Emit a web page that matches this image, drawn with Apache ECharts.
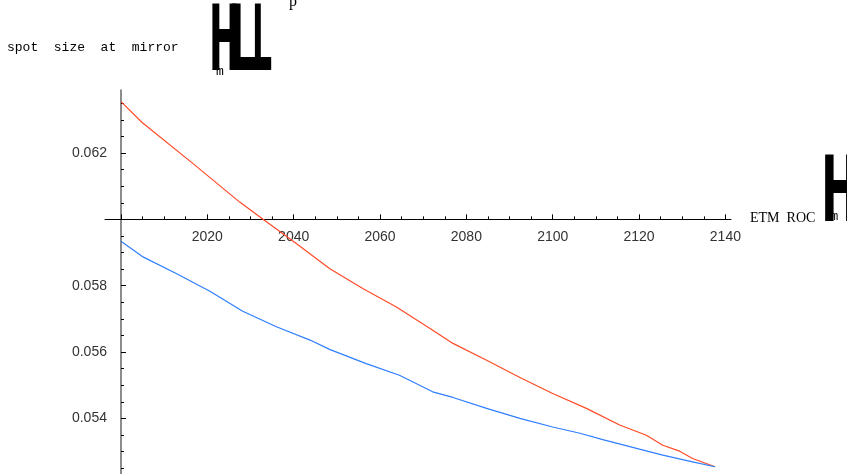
<!DOCTYPE html>
<html>
<head>
<meta charset="utf-8">
<script src="https://cdn.jsdelivr.net/npm/echarts@6/dist/echarts.min.js"></script>
<style>
html,body{margin:0;padding:0;background:#fff;}
#chart{width:847px;height:474px;}
</style>
</head>
<body>
<div id="chart"></div>
<script>
// ---- data ----
var redYears = [2000, 2004.9, 2016.7, 2027.5, 2032.9, 2040.6, 2048.3, 2056.1, 2063.8, 2071.5, 2076.9, 2084.7, 2092.4, 2100, 2107.8, 2115.5, 2121.7, 2125.5, 2129.4, 2132.4, 2137.6];
var redValues = [0.06355, 0.06292, 0.06168, 0.06052, 0.06000, 0.05927, 0.05852, 0.05791, 0.05736, 0.05672, 0.05626, 0.05575, 0.05523, 0.05475, 0.05430, 0.05380, 0.05349, 0.05319, 0.05301, 0.05279, 0.05254];
var blueYears = [2000, 2005.2, 2012.9, 2020.6, 2028.2, 2036.0, 2043.8, 2048.3, 2056.8, 2064.5, 2072.2, 2076.9, 2084.7, 2092.4, 2100, 2106.3, 2111.6, 2120.1, 2125.5, 2132.4, 2137.6];
var blueValues = [0.05934, 0.05886, 0.05836, 0.05783, 0.05723, 0.05676, 0.05636, 0.05608, 0.05565, 0.05530, 0.05480, 0.05463, 0.05430, 0.05400, 0.05374, 0.05355, 0.05336, 0.05307, 0.05289, 0.05269, 0.05254];
var xTickLabels = [2020, 2040, 2060, 2080, 2100, 2120, 2140];
var yTickLabels = [0.054, 0.056, 0.058, 0.062];
var yAxisTitle = 'spot  size  at  mirror';
var xAxisTitle = 'ETM  ROC';

// axes cross at (X0, Y0)
var X0 = 2000, Y0 = 0.060;
var xMin = 1996.3, xMax = 2141.3;
var yMin = 0.052322, yMax = 0.0639;

var W = 847, H = 474;
var gLeft = 105, gRight = 116, gTop = 90, gBottom = 0;
var gW = W - gLeft - gRight, gH = H - gTop - gBottom;
// shift axes so they cross at (X0, Y0)
var xAxisOffset = -gH * (yMax - Y0) / (yMax - yMin);
var yAxisOffset = -gW * (X0 - xMin) / (xMax - xMin);

function pairs(xs, ys) {
  return xs.map(function (x, i) { return [x, ys[i]]; });
}
var xMajor = [], xMinor = [];
for (var v = 2000; v <= 2140; v += 5) {
  if (v % 20 === 0) xMajor.push(v); else xMinor.push(v);
}
var yMajor = [], yMinor = [];
for (var k = 105; k <= 127; k++) {
  var val = +(k * 0.0005).toFixed(4);
  if (k % 4 === 0) yMajor.push(val); else yMinor.push(val);
}

var chart = echarts.init(document.getElementById('chart'), null, {renderer: 'canvas'});
var labelFont = {fontFamily: '"Liberation Sans", Arial, sans-serif', fontSize: 14, color: '#333'};
var option = {
  animation: false,
  backgroundColor: '#fff',
  grid: {left: gLeft, right: gRight, top: gTop, bottom: gBottom, outerBoundsMode: 'none', containLabel: false},
  xAxis: [{
    type: 'value', min: xMin, max: xMax, position: 'top', offset: xAxisOffset,
    axisLine: {onZero: false, lineStyle: {color: '#000', width: 1}},
    axisTick: {inside: false, length: 5, customValues: xMajor, lineStyle: {color: '#000'}},
    axisLabel: Object.assign({customValues: xTickLabels, inside: true, margin: 11,
      formatter: function (t) { return String(Math.round(t)); }}, labelFont),
    splitLine: {show: false}
  }, {
    type: 'value', min: xMin, max: xMax, position: 'top', offset: xAxisOffset,
    axisLine: {show: false, onZero: false},
    axisTick: {inside: false, length: 3, customValues: xMinor, lineStyle: {color: '#000'}},
    axisLabel: {show: false},
    splitLine: {show: false}
  }],
  yAxis: [{
    type: 'value', min: yMin, max: yMax, position: 'left', offset: yAxisOffset,
    axisLine: {onZero: false, lineStyle: {color: '#666', width: 1.5}},
    axisTick: {inside: true, length: 5, customValues: yMajor, lineStyle: {color: '#000'}},
    axisLabel: Object.assign({customValues: yTickLabels, margin: 14,
      formatter: function (t) { return t.toFixed(3); }}, labelFont),
    splitLine: {show: false}
  }, {
    type: 'value', min: yMin, max: yMax, position: 'left', offset: yAxisOffset,
    axisLine: {show: false, onZero: false},
    axisTick: {inside: true, length: 3, customValues: yMinor, lineStyle: {color: '#000'}},
    axisLabel: {show: false},
    splitLine: {show: false}
  }],
  series: [{
    name: 'red', type: 'line', data: pairs(redYears, redValues), showSymbol: false,
    lineStyle: {color: '#ff4a26', width: 1.2}, itemStyle: {color: '#ff4a26'}
  }, {
    name: 'blue', type: 'line', data: pairs(blueYears, blueValues), showSymbol: false,
    lineStyle: {color: '#2f7fff', width: 1.2}, itemStyle: {color: '#2f7fff'}
  }],
  graphic: [
    {type: 'text', x: 7, y: 48, style: {text: yAxisTitle, font: '13px "Liberation Mono", monospace', fill: '#000', verticalAlign: 'middle'}},
    {type: 'text', x: 750, y: 218, style: {text: xAxisTitle, font: '14px "Liberation Serif", serif', fill: '#000', verticalAlign: 'middle'}},
    {type: 'text', x: 216, y: 72, style: {text: 'm', font: '13px "Liberation Mono", monospace', fill: '#000', verticalAlign: 'middle'}},
    {type: 'text', x: 831, y: 217, style: {text: 'm', font: '12px "Liberation Mono", monospace', fill: '#000', verticalAlign: 'middle'}},
    {type: 'text', x: 209, y: 47, scaleX: 0.41, style: {text: 'H', font: 'bold 90px "DejaVu Sans"', fill: '#000', verticalAlign: 'middle'}},
    {type: 'text', x: 228, y: 47, scaleX: 0.5, style: {text: 'L', font: 'bold 90px "DejaVu Sans"', fill: '#000', verticalAlign: 'middle'}},
    {type: 'text', x: 252, y: 47, scaleX: 0.35, style: {text: 'L', font: 'bold 90px "DejaVu Sans"', fill: '#000', verticalAlign: 'middle'}},
    {type: 'text', x: 821, y: 198, scaleX: 0.5, style: {text: 'H', font: 'bold 90px "DejaVu Sans"', fill: '#000', verticalAlign: 'middle'}},
    {type: 'text', x: 289, y: 2, style: {text: 'p', font: '16px "Liberation Serif", serif', fill: '#000', verticalAlign: 'middle'}}
  ]
};
chart.setOption(option);
</script>
</body>
</html>
